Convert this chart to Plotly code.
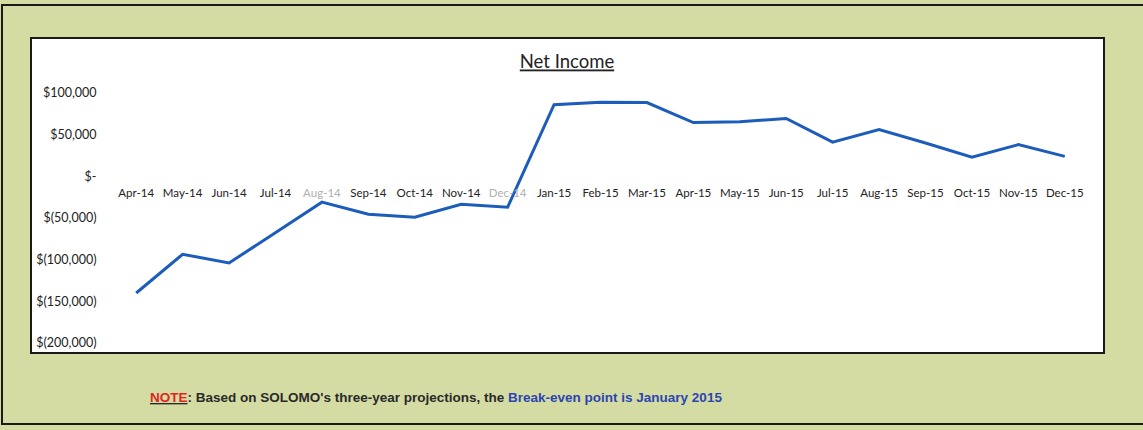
import plotly.graph_objects as go

months = ["Apr-14", "May-14", "Jun-14", "Jul-14", "Aug-14", "Sep-14", "Oct-14", "Nov-14", "Dec-14",
          "Jan-15", "Feb-15", "Mar-15", "Apr-15", "May-15", "Jun-15", "Jul-15", "Aug-15", "Sep-15",
          "Oct-15", "Nov-15", "Dec-15"]
net_income = [-140000, -93500, -104000, -67000, -31000, -45500, -49000, -33500, -37000,
              86000, 89000, 88500, 64500, 65500, 69500, 41000, 56000, 40000,
              23000, 38000, 24000]
y_tick_vals = [100000, 50000, 0, -50000, -100000, -150000, -200000]
y_tick_text = ["$100,000", "$50,000", "$-", "$(50,000)", "$(100,000)", "$(150,000)", "$(200,000)"]
faded = {"Aug-14", "Dec-14"}
x_tick_text = [f"<span style='color:#b0b0b0'>{m}</span>" if m in faded else m for m in months]

W, H = 1143, 430
L, R, T, B = 113, 1088, 93, 343

def px(x):
    return (x - L) / (R - L)

def py(y):
    return (B - y) / (B - T)

fig = go.Figure()
fig.add_trace(go.Scatter(x=months, y=net_income, mode="lines",
                         line=dict(color="#1c5cbb", width=3), hoverinfo="skip"))

fig.update_layout(
    width=W, height=H,
    margin=dict(l=L, r=W - R, t=T, b=H - B),
    paper_bgcolor="#d4dca4",
    plot_bgcolor="rgba(0,0,0,0)",
    showlegend=False,
    font=dict(family="Lato, Open Sans, sans-serif", size=11, color="#222"),
    title=dict(text="<u>Net Income</u>", x=567 / W, xref="container", xanchor="center",
               y=1 - 62 / H, yref="container", yanchor="middle",
               font=dict(size=18.5, color="#222", family="Lato, Open Sans, sans-serif")),
    xaxis=dict(type="category", range=[-0.5, 20.5], tickvals=months, ticktext=x_tick_text,
               showgrid=False, zeroline=False, showline=False,
               anchor="free", position=py(176), ticks="outside", ticklen=6,
               tickcolor="rgba(0,0,0,0)", tickangle=0, tickfont=dict(size=11.5)),
    yaxis=dict(range=[-200000, 100000], tickvals=y_tick_vals, ticktext=y_tick_text,
               showgrid=False, zeroline=False, showline=False, ticks="outside", ticklen=13,
               tickcolor="rgba(0,0,0,0)", tickfont=dict(size=12.5)),
    shapes=[
        dict(type="rect", xref="paper", yref="paper", x0=px(2), x1=px(1160), y0=py(5), y1=py(424),
             line=dict(color="#1a1a1a", width=2), fillcolor="rgba(0,0,0,0)", layer="below"),
        dict(type="rect", xref="paper", yref="paper", x0=px(31), x1=px(1104), y0=py(38), y1=py(353),
             line=dict(color="#1a1a1a", width=2), fillcolor="white", layer="below"),
    ],
    annotations=[
        dict(xref="paper", yref="paper", x=px(148), y=py(397), xanchor="left", yanchor="middle",
             showarrow=False,
             font=dict(family="Liberation Sans, Arial, sans-serif", size=13.5, color="#2a2a2a"),
             text="<b><u><span style='color:#e0261c'>NOTE</span></u>: Based on SOLOMO's three-year projections, the "
                  "<span style='color:#2c45b0'>Break-even point is January 2015</span></b>"),
    ],
)

fig.write_html("out.html", config={"displayModeBar": False},
               post_script="document.body.style.margin='0';")
